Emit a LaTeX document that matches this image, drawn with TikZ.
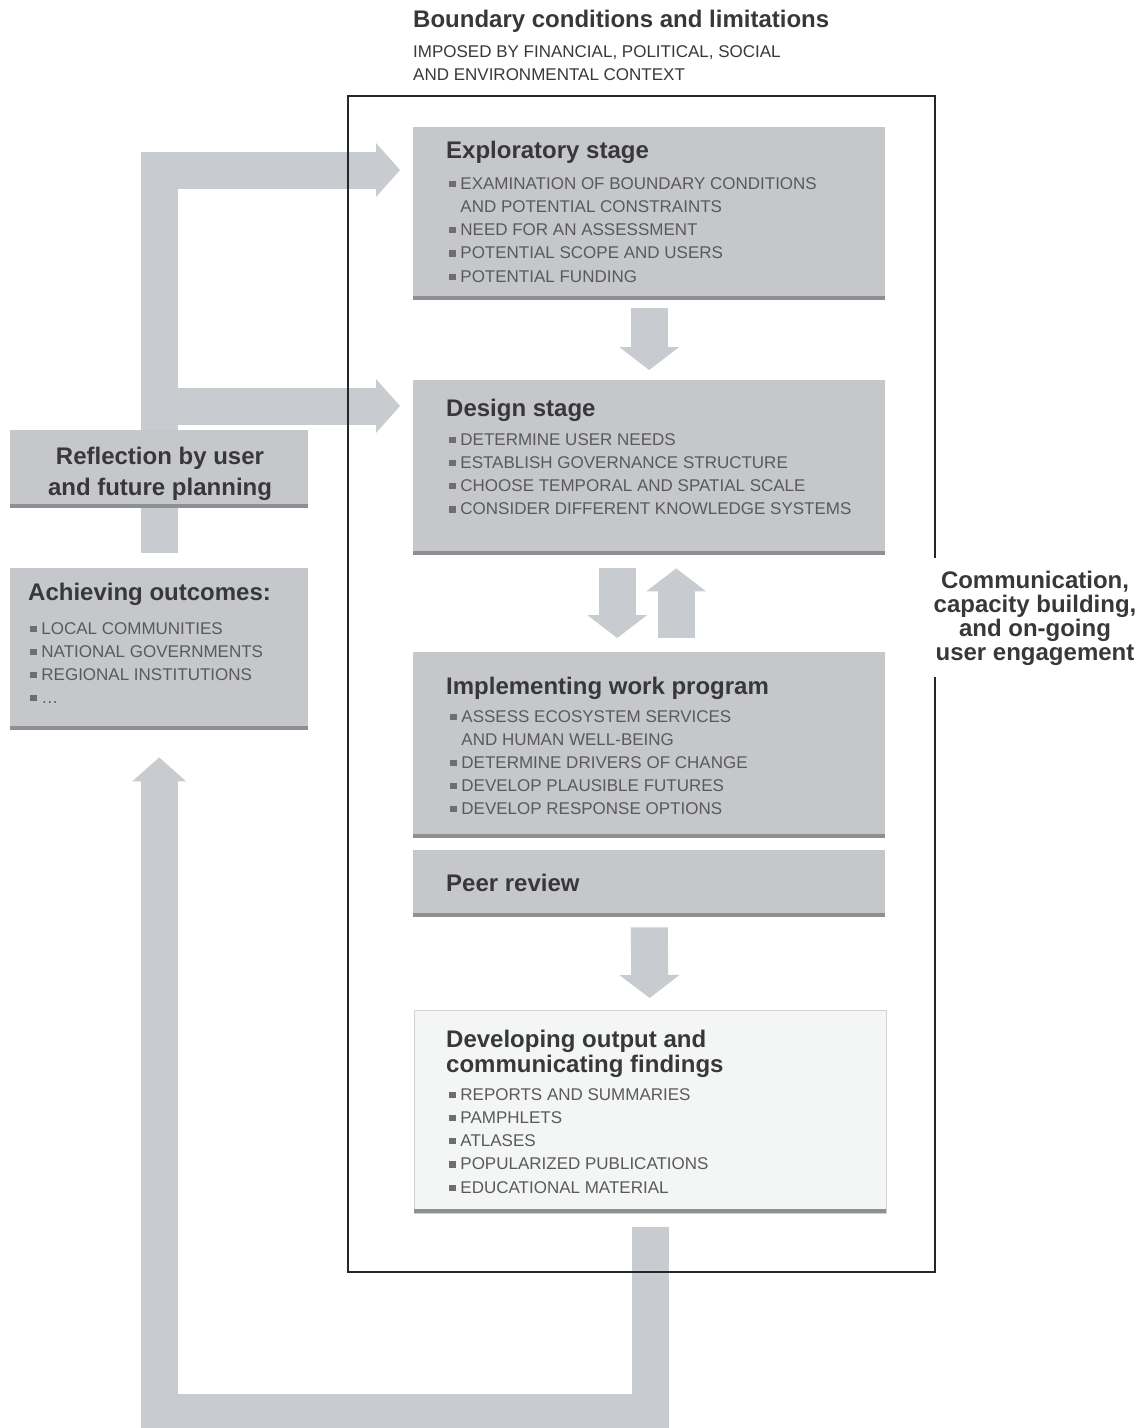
\documentclass[tikz,border=0pt]{standalone}
\usepackage{fontspec}
\setmainfont{Liberation Sans}
\usetikzlibrary{arrows.meta,backgrounds}

\definecolor{boxgray}{HTML}{C5C7CB}
\definecolor{arrowgray}{HTML}{C8CBD0}
\definecolor{edgegray}{HTML}{8E8F93}
\definecolor{devfill}{HTML}{F4F5F5}
\definecolor{titlecol}{HTML}{383838}
\definecolor{itemcol}{HTML}{5A5A5C}
\definecolor{bulcol}{HTML}{6E6E70}

\newcommand\bul{\textcolor{bulcol}{\rule[0.12em]{0.38em}{0.38em}}\hspace{0.28em}}
\newcommand\nobul{\hphantom{\bul}}

\tikzset{
  stagebox/.style={fill=boxgray, anchor=north west, inner sep=0pt, minimum width=472pt},
  devbox/.style={stagebox, fill=devfill, draw=black!18},
  shadowline/.style={draw=edgegray, line width=4pt},
  heading/.style={font=\fontsize{24}{26}\selectfont\bfseries, text=titlecol, inner sep=0pt, anchor=base west},
  subhead/.style={font=\fontsize{17}{20}\selectfont, text=titlecol, inner sep=0pt, anchor=base west},
  stagetitle/.style={font=\fontsize{24}{26}\selectfont\bfseries, text=titlecol, inner sep=0pt, anchor=base west},
  item/.style={font=\fontsize{17}{20}\selectfont, text=itemcol, inner sep=0pt, anchor=base west},
  flow/.style={draw=arrowgray, line width=37pt, -{Triangle[length=23pt 0, width=60pt 0, line width=0pt]}},
  loopflow/.style={draw=arrowgray, line width=37pt, -{Triangle[length=24pt 0, width=54pt 0, line width=0pt]}},
  frame/.style={draw=black!85, line width=1.3pt},
}

\begin{document}
\begin{tikzpicture}[x=1pt,y=-1pt]
\useasboundingbox (0,0) rectangle (1146,1428);

% heading above the frame
\node[heading] (bound) at (413,27) {Boundary conditions and limitations};
\node[subhead] (imposed1) at (413,57) {IMPOSED BY FINANCIAL, POLITICAL, SOCIAL};
\node[subhead] (imposed2) at (413,80) {AND ENVIRONMENTAL CONTEXT};

% boxes
\node[stagebox, minimum height=173pt] (explore) at (413,127) {};
\node[stagebox, minimum height=175pt] (design) at (413,380) {};
\node[stagebox, minimum height=186pt] (impl) at (413,652) {};
\node[stagebox, minimum height=67pt] (peer) at (413,850) {};
\node[devbox, minimum height=203pt] (develop) at (414,1010) {};
\node[stagebox, minimum width=298pt, minimum height=78pt] (refl) at (10,430) {};
\node[stagebox, minimum width=298pt, minimum height=162pt] (achieve) at (10,568) {};
\foreach \b in {explore,design,impl,peer,develop,refl,achieve}
  \draw[shadowline] ([yshift=2pt]\b.south west) -- ([yshift=2pt]\b.south east);

% Exploratory stage
\node[stagetitle] (exploretitle) at (446,158) {Exploratory stage};
\foreach \t [count=\i from 0] in {{\bul EXAMINATION OF BOUNDARY CONDITIONS},{\nobul AND POTENTIAL CONSTRAINTS},
    {\bul NEED FOR AN ASSESSMENT},{\bul POTENTIAL SCOPE AND USERS},{\bul POTENTIAL FUNDING}}
  \node[item] (explore\i) at (449,189+23.25*\i) {\t};

% Design stage
\node[stagetitle] (designtitle) at (446,416) {Design stage};
\foreach \t [count=\i from 0] in {{\bul DETERMINE USER NEEDS},{\bul ESTABLISH GOVERNANCE STRUCTURE},
    {\bul CHOOSE TEMPORAL AND SPATIAL SCALE},{\bul CONSIDER DIFFERENT KNOWLEDGE SYSTEMS}}
  \node[item] (design\i) at (449,445+23.25*\i) {\t};

% Implementing work program
\node[stagetitle] (impltitle) at (446,694) {Implementing work program};
\foreach \t [count=\i from 0] in {{\bul ASSESS ECOSYSTEM SERVICES},{\nobul AND HUMAN WELL-BEING},
    {\bul DETERMINE DRIVERS OF CHANGE},{\bul DEVELOP PLAUSIBLE FUTURES},{\bul DEVELOP RESPONSE OPTIONS}}
  \node[item] (impl\i) at (450,722+23*\i) {\t};

% Peer review
\node[stagetitle] (peertitle) at (446,891) {Peer review};

% Developing output
\node[stagetitle] (devtitle1) at (446,1047) {Developing output and};
\node[stagetitle] (devtitle2) at (446,1072) {communicating findings};
\foreach \t [count=\i from 0] in {{\bul REPORTS AND SUMMARIES},{\bul PAMPHLETS},{\bul ATLASES},
    {\bul POPULARIZED PUBLICATIONS},{\bul EDUCATIONAL MATERIAL}}
  \node[item] (develop\i) at (449,1100+23.25*\i) {\t};

% left column
\node[stagetitle, anchor=base] (refltitle1) at (160,464) {Reflection by user};
\node[stagetitle, anchor=base] (refltitle2) at (160,495) {and future planning};
\node[stagetitle] (achievetitle) at (28,600) {Achieving outcomes:};
\foreach \t [count=\i from 0] in {{\bul LOCAL COMMUNITIES},{\bul NATIONAL GOVERNMENTS},
    {\bul REGIONAL INSTITUTIONS},{\bul\ldots}}
  \node[item] (achieve\i) at (30,634+23*\i) {\t};

% side note on the right
\foreach \t [count=\i from 0] in {{Communication,},{capacity building,},{and on-going},{user engagement}}
  \node[stagetitle, anchor=base] (comm\i) at (1035,588+24*\i) {\t};

\begin{scope}[on background layer]
\coordinate (intop) at (400,170);
\coordinate (indesign) at (400,406);
\draw[loopflow] ([yshift=-45pt]refl.south) |- (intop);
\draw[loopflow] (refl.center |- indesign) -- (indesign);
\draw[loopflow] ([yshift=-14pt]develop.south) -- ++(0,185) -| ([yshift=-27pt]achieve.south);

\draw[flow, shorten <=8pt, shorten >=10pt] (explore) -- (design);
\draw[flow, shorten <=13pt, shorten >=14pt] ([xshift=-32pt]design.south) -- ([xshift=-32pt]impl.north);
\draw[flow, shorten <=14pt, shorten >=13pt] ([xshift=27pt]impl.north) -- ([xshift=27pt]design.south);
\draw[flow, shorten <=10pt, shorten >=12pt] (peer) -- (develop);

% frame, open where the side note sits
\draw[frame] (935,558) -- (935,96) -- (348,96) -- (348,1272) -- (935,1272) -- (935,677);
\end{scope}
\end{tikzpicture}
\end{document}
